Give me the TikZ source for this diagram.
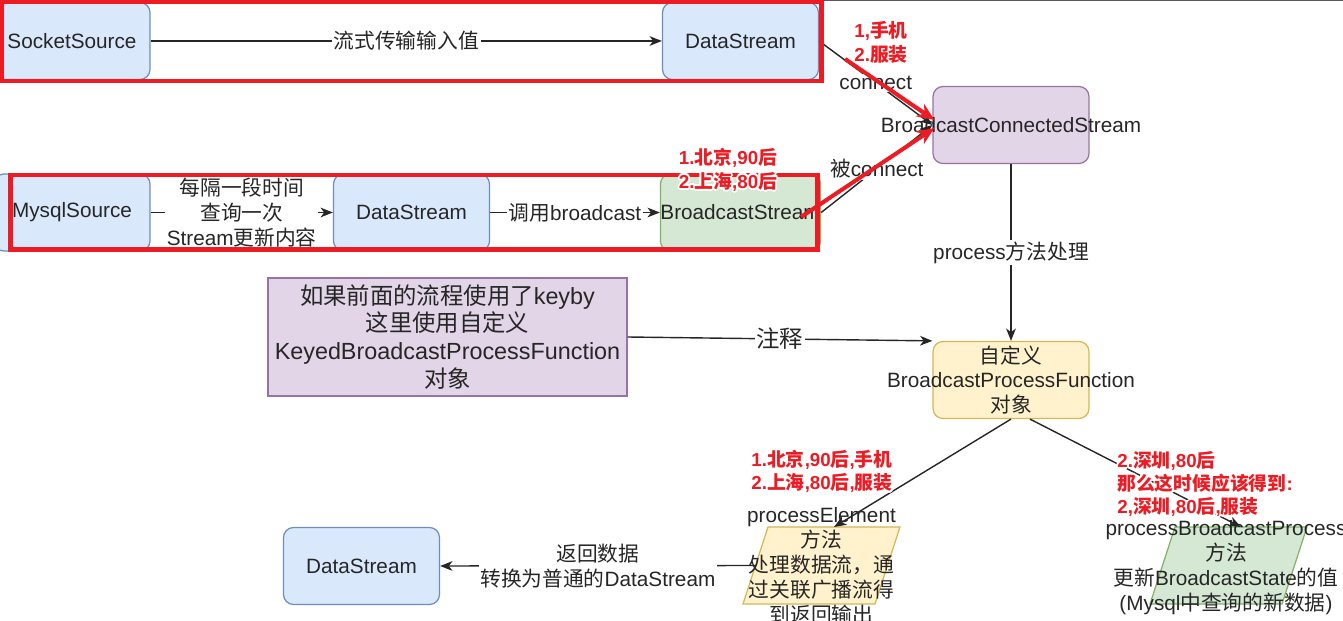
\documentclass[tikz,border=0pt]{standalone}
\usepackage{fontspec}
\setmainfont{Liberation Sans}
\newfontfamily\zhfont{Noto Sans CJK SC}
\usepackage{tikz}
\usetikzlibrary{arrows.meta,calc}
\definecolor{bluefill}{HTML}{DAE8FC}
\definecolor{blueline}{HTML}{6C8EBF}
\definecolor{greenfill}{HTML}{D5E8D4}
\definecolor{greenline}{HTML}{82B366}
\definecolor{purplefill}{HTML}{E1D5E7}
\definecolor{purpleline}{HTML}{9673A6}
\definecolor{yellowfill}{HTML}{FFF2CC}
\definecolor{yellowline}{HTML}{D6B656}
\definecolor{markred}{HTML}{ED1C24}
\definecolor{txtgray}{HTML}{262626}
\newcommand{\mainfnt}{\fontsize{11.8}{14.2}\selectfont}
\newcommand{\bigfnt}{\fontsize{13.3}{15.9}\selectfont}
\newcommand{\notefnt}{\fontsize{10.7}{13.3}\selectfont\bfseries}
% chinese characters switch to the CJK font
\XeTeXinterchartokenstate=1
\newXeTeXintercharclass\zhclass
\newcount\zhcnt
\def\zhrange#1#2{\zhcnt=#1 \loop\ifnum\zhcnt<#2 \XeTeXcharclass\zhcnt=\zhclass \advance\zhcnt by 1 \repeat}
\zhrange{"3000}{"3040}
\zhrange{"4E00}{"A000}
\zhrange{"FF00}{"FFF0}
\XeTeXinterchartoks 0 \zhclass = {\zhfont}
\XeTeXinterchartoks 4095 \zhclass = {\zhfont}
\XeTeXinterchartoks \zhclass 0 = {\rmfamily}
\XeTeXinterchartoks \zhclass 4095 = {\rmfamily}
% red remark with a white glow round it
\newcommand{\rednote}[4][]{%
	\foreach \ang in {0,30,...,330}
		\node[remark, #1, text=white] at ($(#3)+(\ang:1.8)$) {#4};
	\node[remark, #1] (#2) at (#3) {#4};
}
\begin{document}
\begin{tikzpicture}[x=0.02cm, y=-0.02cm,
	boxbase/.style={rounded corners=0.2cm, line width=0.7pt, minimum width=3.12cm, minimum height=1.54cm, inner sep=0pt, text=txtgray, font=\mainfnt, align=center},
	bluebox/.style={boxbase, draw=blueline, fill=bluefill},
	greenbox/.style={boxbase, draw=greenline, fill=greenfill},
	purplebox/.style={boxbase, draw=purpleline, fill=purplefill},
	yellowbox/.style={boxbase, draw=yellowline, fill=yellowfill},
	plgram/.style={line width=0.7pt},
	boxtext/.style={text=txtgray, font=\mainfnt, align=center, inner sep=0pt},
	lbl/.style={fill=white, inner sep=1pt, text=txtgray, font=\mainfnt, align=center},
	flow/.style={draw=txtgray, line width=0.8pt, -{Stealth[length=7pt, width=5.5pt, inset=2pt]}},
	redframe/.style={draw=markred, line width=2.5pt},
	redarrow/.style={draw=markred, line width=2.3pt, -{Stealth[length=10pt, width=8.5pt]}},
	remark/.style={text=markred, font=\notefnt, align=center, inner sep=0pt}]
	\useasboundingbox (0,0) rectangle (1343,621);
	\draw[black!65, line width=0.6pt] (820,0.5) -- (1343,0.5);

	\node[bluebox] (socket) at (72,41) {SocketSource};
	\node[bluebox] (ds1) at (740.5,41) {DataStream};
	\node[purplebox] (bcs) at (1011,125) {\makebox[0pt]{BroadcastConnectedStream}};
	\node[bluebox] (mysql) at (72,212.5) {MysqlSource};
	\node[bluebox] (ds2) at (411.5,212.5) {DataStream};
	\node[greenbox] (bstream) at (740.5,212.5) {BroadcastStream};
	\node[purplebox, sharp corners, minimum width=7.18cm, minimum height=2.36cm, font=\bigfnt] (comment) at (447.5,337) {如果前面的流程使用了keyby\\这里使用自定义\\KeyedBroadcastProcessFunction\\对象};
	\node[yellowbox] (custom) at (1011,380) {自定义\\\makebox[0pt]{BroadcastProcessFunction}\\对象};
	\node[bluebox] (ds3) at (361.5,566) {DataStream};

	\coordinate (pe) at (821.5,565.5);
	\draw[plgram, draw=yellowline, fill=yellowfill] ($(pe)+(-78.5,38.5)$) -- ++(132,0) -- ++(25,-77) -- ++(-132,0) -- cycle;
	\coordinate (peTop) at ($(pe)+(12.5,-38.5)$);
	\coordinate (peLeft) at ($(pe)+(-66,0)$);
	\node[boxtext] (peText) at (821.5,566) {processElement\\方法\\处理数据流，通\\过关联广播流得\\到返回输出};
	\coordinate (pb) at (1228.5,565.5);
	\draw[plgram, draw=greenline, fill=greenfill] ($(pb)+(-78.5,38.5)$) -- ++(132,0) -- ++(25,-77) -- ++(-132,0) -- cycle;
	\coordinate (pbTop) at ($(pb)+(12.5,-38.5)$);
	\node[boxtext] (pbText) at (1226,567.5) {processBroadcastProcess\\方法\\更新BroadcastState的值\\(Mysql中查询的新数据)};

	\draw[flow] (socket) -- node[lbl] {流式传输输入值} (ds1);
	\draw[flow] (ds1.east) -- node[lbl] {connect} (bcs.west);
	\draw[flow] (mysql) -- node[lbl] {每隔一段时间\\查询一次\\Stream更新内容} (ds2);
	\draw[flow] (ds2) -- node[lbl] {调用broadcast} (bstream);
	\draw[flow] (bstream.east) -- node[lbl] {被connect} (bcs.west);
	\draw[flow] (bcs) -- node[lbl] {process方法处理} (custom);
	\draw[flow] (comment.east) -- node[lbl, font=\bigfnt] {注释} (custom.north west);
	\draw[flow] (custom.south) -- (peTop);
	\draw[flow] ($(custom.south)+(19,0)$) -- (pbTop);
	\draw[flow] (peLeft) -- node[lbl] {返回数据\\转换为普通的DataStream} (ds3.east);

	\draw[redframe] (2,1.5) rectangle (821.5,81);
	\draw[redframe] (10.5,175) rectangle (817.5,249.5);
	\coordinate (redA) at (845,59);
	\coordinate (redB) at (801,217);
	\draw[redarrow] (redA) -- ($(bcs.west)+(2,-5)$);
	\draw[redarrow] (redB) -- ($(bcs.west)+(2,3)$);

	\rednote{noteA}{881,42.5}{1,手机\\2.服装}
	\rednote{noteB}{728,170}{1.北京,90后\\2.上海,80后}
	\rednote{noteC}{822,471.5}{1.北京,90后,手机\\2.上海,80后,服装}
	\rednote[anchor=west, align=left]{noteD}{1117,484}{2.深圳,80后\\那么这时候应该得到:\\2,深圳,80后,服装}
\end{tikzpicture}
\end{document}
